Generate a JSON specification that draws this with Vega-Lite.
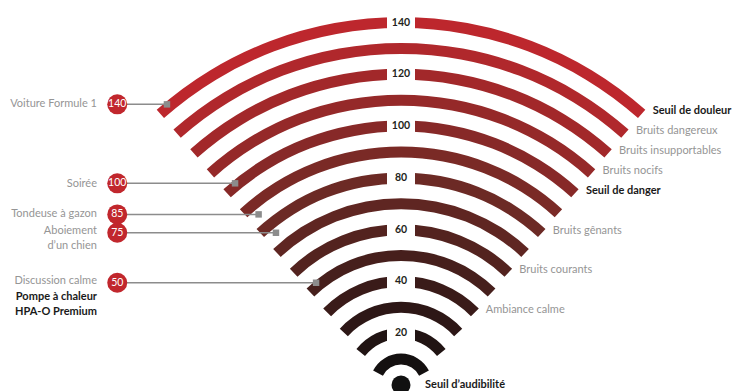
{
  "$schema": "https://vega.github.io/schema/vega-lite/v6.json",
  "width": 734,
  "height": 391,
  "padding": 0,
  "autosize": {"type": "none"},
  "background": "white",
  "config": {"view": {"stroke": null}, "text": {"font": "Lato"}},
  "datasets": {
    "arcs": [
      {"db": 10, "left": -62.7, "right": 62.7, "label": "", "kind": ""},
      {"db": 20, "left": -51.1, "right": 51.1, "label": "", "kind": ""},
      {"db": 30, "left": -47.4, "right": 47.4, "label": "", "kind": ""},
      {"db": 40, "left": -45.5, "right": 45.5, "label": "Ambiance calme", "kind": "niveau"},
      {"db": 50, "left": -44.4, "right": 44.4, "label": "", "kind": ""},
      {"db": 60, "left": -43.7, "right": 43.7, "label": "Bruits courants", "kind": "niveau"},
      {"db": 70, "left": -43.2, "right": 43.2, "label": "", "kind": ""},
      {"db": 80, "left": -42.8, "right": 42.8, "label": "Bruits gênants", "kind": "niveau"},
      {"db": 90, "left": -42.5, "right": 42.5, "label": "", "kind": ""},
      {"db": 100, "left": -42.2, "right": 42.2, "label": "Seuil de danger", "kind": "seuil"},
      {"db": 110, "left": -42.0, "right": 42.0, "label": "Bruits nocifs", "kind": "niveau"},
      {"db": 120, "left": -41.8, "right": 41.8, "label": "Bruits insupportables", "kind": "niveau"},
      {"db": 130, "left": -41.7, "right": 41.7, "label": "Bruits dangereux", "kind": "niveau"},
      {"db": 140, "left": -41.6, "right": 41.6, "label": "Seuil de douleur", "kind": "seuil"}
    ],
    "examples": [
      {"db": 140, "cx": -109.6, "ly": 108.4, "ex": -90.4},
      {"db": 100, "cx": -109.6, "ly": 77.9, "ex": -64.1},
      {"db": 85, "cx": -109.6, "ly": 65.9, "ex": -55.0},
      {"db": 75, "cx": -109.6, "ly": 58.8, "ex": -48.3},
      {"db": 50, "cx": -109.6, "ly": 39.5, "ex": -32.8}
    ],
    "lines": [
      {"text": "Voiture Formule 1", "ly": 108.4, "kind": "exemple"},
      {"text": "Soirée", "ly": 77.6, "kind": "exemple"},
      {"text": "Tondeuse à gazon", "ly": 66.0, "kind": "exemple"},
      {"text": "Aboiement", "ly": 59.5, "kind": "exemple"},
      {"text": "d’un chien", "ly": 53.8, "kind": "exemple"},
      {"text": "Discussion calme", "ly": 40.2, "kind": "exemple"},
      {"text": "Pompe à chaleur", "ly": 33.9, "kind": "produit"},
      {"text": "HPA-O Premium", "ly": 28.3, "kind": "produit"}
    ],
    "source": [{"db": 0, "label": "Seuil d’audibilité"}]
  },
  "layer": [
    {
      "data": {"name": "arcs"},
      "mark": {"type": "arc", "radiusOffset": 5.5, "radius2Offset": -5.5},
      "encoding": {
        "x": {"datum": 0, "type": "quantitative", "scale": {"domain": [-154.89, 128.62], "nice": false, "zero": false}, "axis": null},
        "y": {"datum": 0, "type": "quantitative", "scale": {"domain": [-2.317, 148.71], "nice": false, "zero": false}, "axis": null},
        "theta": {"field": "left", "type": "quantitative", "stack": null, "scale": {"domain": [-180, 180], "range": [-3.14159265, 3.14159265]}},
        "theta2": {"field": "right"},
        "radius": {"field": "db", "type": "quantitative", "scale": {"type": "linear", "domain": [0, 140], "range": [0, 362.46]}},
        "radius2": {"field": "db"},
        "color": {"field": "db", "type": "quantitative", "scale": {"domain": [10, 80, 140], "range": ["#141010", "#6c2a25", "#bd272d"], "interpolate": "rgb"}, "legend": null}
      }
    },
    {
      "data": {"name": "arcs"},
      "transform": [{"filter": "datum.db % 20 == 0"}],
      "mark": {"type": "point", "shape": "M-1,-0.64H1V0.64H-1Z", "size": 784, "filled": true, "color": "white", "opacity": 1, "strokeWidth": 0},
      "encoding": {
        "x": {"datum": 0, "type": "quantitative", "scale": {"domain": [-154.89, 128.62], "nice": false, "zero": false}, "axis": null},
        "y": {"field": "db", "type": "quantitative", "scale": {"domain": [-2.317, 148.71], "nice": false, "zero": false}, "axis": null}
      }
    },
    {
      "data": {"name": "arcs"},
      "transform": [{"filter": "datum.db % 20 == 0"}],
      "mark": {"type": "text", "fontWeight": "bold", "fontSize": 10.5, "color": "#231f20", "align": "center", "baseline": "middle"},
      "encoding": {
        "x": {"datum": 0, "type": "quantitative", "scale": {"domain": [-154.89, 128.62], "nice": false, "zero": false}, "axis": null},
        "y": {"field": "db", "type": "quantitative", "scale": {"domain": [-2.317, 148.71], "nice": false, "zero": false}, "axis": null},
        "text": {"field": "db", "type": "quantitative"}
      }
    },
    {
      "data": {"name": "source"},
      "mark": {"type": "point", "shape": "circle", "size": 361, "filled": true, "color": "#111111", "opacity": 1},
      "encoding": {
        "x": {"datum": 0, "type": "quantitative", "scale": {"domain": [-154.89, 128.62], "nice": false, "zero": false}, "axis": null},
        "y": {"field": "db", "type": "quantitative", "scale": {"domain": [-2.317, 148.71], "nice": false, "zero": false}, "axis": null}
      }
    },
    {
      "data": {"name": "source"},
      "mark": {"type": "text", "fontWeight": "bold", "fontSize": 11, "color": "#1a1a1a", "align": "left", "baseline": "middle", "dx": 24, "dy": -0.5},
      "encoding": {
        "x": {"datum": 0, "type": "quantitative", "scale": {"domain": [-154.89, 128.62], "nice": false, "zero": false}, "axis": null},
        "y": {"field": "db", "type": "quantitative", "scale": {"domain": [-2.317, 148.71], "nice": false, "zero": false}, "axis": null},
        "text": {"field": "label"}
      }
    },
    {
      "data": {"name": "arcs"},
      "transform": [{"filter": "datum.kind == 'niveau'"}],
      "mark": {"type": "text", "fontSize": 11, "color": "#959595", "align": "left", "baseline": "middle", "dx": 11, "dy": -2.5},
      "encoding": {
        "x": {"datum": 0, "type": "quantitative", "scale": {"domain": [-154.89, 128.62], "nice": false, "zero": false}, "axis": null},
        "y": {"datum": 0, "type": "quantitative", "scale": {"domain": [-2.317, 148.71], "nice": false, "zero": false}, "axis": null},
        "theta": {"field": "right", "type": "quantitative", "stack": null, "scale": {"domain": [-180, 180], "range": [-3.14159265, 3.14159265]}},
        "radius": {"field": "db", "type": "quantitative", "scale": {"type": "linear", "domain": [0, 140], "range": [0, 362.46]}},
        "text": {"field": "label"}
      }
    },
    {
      "data": {"name": "arcs"},
      "transform": [{"filter": "datum.kind == 'seuil'"}],
      "mark": {"type": "text", "fontSize": 11, "fontWeight": "bold", "color": "#1a1a1a", "align": "left", "baseline": "middle", "dx": 11, "dy": -2.5},
      "encoding": {
        "x": {"datum": 0, "type": "quantitative", "scale": {"domain": [-154.89, 128.62], "nice": false, "zero": false}, "axis": null},
        "y": {"datum": 0, "type": "quantitative", "scale": {"domain": [-2.317, 148.71], "nice": false, "zero": false}, "axis": null},
        "theta": {"field": "right", "type": "quantitative", "stack": null, "scale": {"domain": [-180, 180], "range": [-3.14159265, 3.14159265]}},
        "radius": {"field": "db", "type": "quantitative", "scale": {"type": "linear", "domain": [0, 140], "range": [0, 362.46]}},
        "text": {"field": "label"}
      }
    },
    {
      "data": {"name": "examples"},
      "mark": {"type": "rule", "color": "#8c8c8c", "strokeWidth": 1.5},
      "encoding": {
        "x": {"field": "cx", "type": "quantitative", "scale": {"domain": [-154.89, 128.62], "nice": false, "zero": false}, "axis": null},
        "x2": {"field": "ex"},
        "y": {"field": "ly", "type": "quantitative", "scale": {"domain": [-2.317, 148.71], "nice": false, "zero": false}, "axis": null}
      }
    },
    {
      "data": {"name": "examples"},
      "mark": {"type": "point", "shape": "square", "size": 42, "filled": true, "color": "#8c8c8c", "opacity": 1},
      "encoding": {
        "x": {"field": "ex", "type": "quantitative", "scale": {"domain": [-154.89, 128.62], "nice": false, "zero": false}, "axis": null},
        "y": {"field": "ly", "type": "quantitative", "scale": {"domain": [-2.317, 148.71], "nice": false, "zero": false}, "axis": null}
      }
    },
    {
      "data": {"name": "examples"},
      "mark": {"type": "point", "shape": "circle", "size": 400, "filled": true, "color": "#c1272d", "opacity": 1},
      "encoding": {
        "x": {"field": "cx", "type": "quantitative", "scale": {"domain": [-154.89, 128.62], "nice": false, "zero": false}, "axis": null},
        "y": {"field": "ly", "type": "quantitative", "scale": {"domain": [-2.317, 148.71], "nice": false, "zero": false}, "axis": null}
      }
    },
    {
      "data": {"name": "examples"},
      "mark": {"type": "text", "fontSize": 10.5, "color": "white", "align": "center", "baseline": "middle"},
      "encoding": {
        "x": {"field": "cx", "type": "quantitative", "scale": {"domain": [-154.89, 128.62], "nice": false, "zero": false}, "axis": null},
        "y": {"field": "ly", "type": "quantitative", "scale": {"domain": [-2.317, 148.71], "nice": false, "zero": false}, "axis": null},
        "text": {"field": "db", "type": "quantitative"}
      }
    },
    {
      "data": {"name": "lines"},
      "transform": [{"filter": "datum.kind == 'exemple'"}],
      "mark": {"type": "text", "fontSize": 11, "color": "#959595", "align": "right", "baseline": "middle", "dx": -20.3},
      "encoding": {
        "x": {"datum": -109.6, "type": "quantitative", "scale": {"domain": [-154.89, 128.62], "nice": false, "zero": false}, "axis": null},
        "y": {"field": "ly", "type": "quantitative", "scale": {"domain": [-2.317, 148.71], "nice": false, "zero": false}, "axis": null},
        "text": {"field": "text"}
      }
    },
    {
      "data": {"name": "lines"},
      "transform": [{"filter": "datum.kind == 'produit'"}],
      "mark": {"type": "text", "fontSize": 11, "fontWeight": "bold", "color": "#1a1a1a", "align": "right", "baseline": "middle", "dx": -20.3},
      "encoding": {
        "x": {"datum": -109.6, "type": "quantitative", "scale": {"domain": [-154.89, 128.62], "nice": false, "zero": false}, "axis": null},
        "y": {"field": "ly", "type": "quantitative", "scale": {"domain": [-2.317, 148.71], "nice": false, "zero": false}, "axis": null},
        "text": {"field": "text"}
      }
    }
  ]
}
